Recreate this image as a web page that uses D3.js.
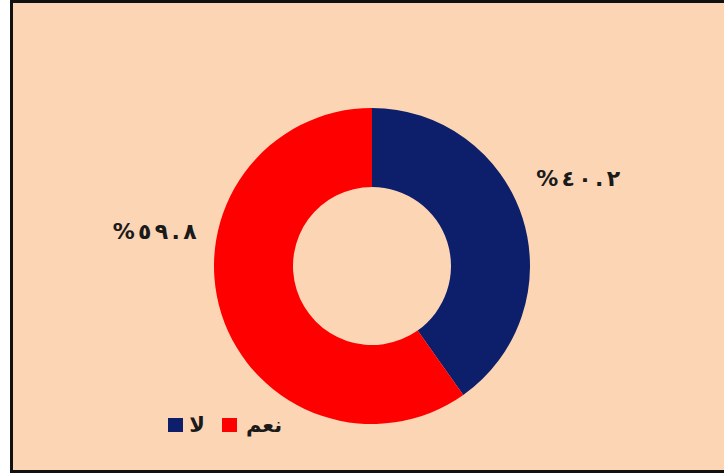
<!DOCTYPE html>
<html>
<head>
<meta charset="utf-8">
<script src="https://cdn.jsdelivr.net/npm/d3@7"></script>
<style>
  html, body { margin: 0; padding: 0; background: #ffffff; }
  svg { display: block; }
  text { font-family: "DejaVu Sans", sans-serif; font-weight: bold; }
</style>
</head>
<body>
<svg id="chart" width="724" height="474"></svg>
<script>
// Survey answers: "no" and "yes"
const categories = ["لا", "نعم"];
const values = [40.2, 59.8];
const valueLabels = ["%٤٠.٢", "%٥٩.٨"];
const colors = ["#0D1E6A", "#FF0000"];

const svg = d3.select("#chart");

// chart area with dark frame
svg.append("rect")
  .attr("x", 11.5).attr("y", 1.5)
  .attr("width", 740).attr("height", 470)
  .attr("fill", "#FCD5B5")
  .attr("stroke", "#111111")
  .attr("stroke-width", 3);

const cx = 372, cy = 266, rOuter = 158, rInner = 79;

const pie = d3.pie().sort(null).value(d => d.value);
const arcs = pie(categories.map((c, i) => ({ cat: c, value: values[i], color: colors[i], label: valueLabels[i] })));
const arc = d3.arc().innerRadius(rInner).outerRadius(rOuter);

const g = svg.append("g").attr("transform", `translate(${cx},${cy})`);
g.selectAll("path.slice")
  .data(arcs)
  .join("path")
  .attr("class", "slice")
  .attr("d", arc)
  .attr("fill", d => d.data.color);

// value labels placed outside the ring (angle from top, clockwise; distance from centre)
const labelPlace = [
  { angle: 67, dist: 224 },
  { angle: 279, dist: 220 }
];
g.selectAll("text.val")
  .data(arcs)
  .join("text")
  .attr("class", "val")
  .attr("direction", "ltr")
  .attr("transform", (d, i) => {
    const a = labelPlace[i].angle * Math.PI / 180;
    const r = labelPlace[i].dist;
    return `translate(${r * Math.sin(a)},${-r * Math.cos(a)})`;
  })
  .attr("text-anchor", "middle")
  .attr("dominant-baseline", "central")
  .attr("font-size", 22)
  .attr("textLength", 84)
  .attr("lengthAdjust", "spacing")
  .attr("fill", "#1a1a1a")
  .text(d => d.data.label);

// legend
const legend = svg.append("g").attr("transform", "translate(168,425)");
const legendItems = [
  { cat: categories[0], color: colors[0], x: 0, tx: 29 },
  { cat: categories[1], color: colors[1], x: 54, tx: 96 }
];
legendItems.forEach(it => {
  legend.append("rect")
    .attr("x", it.x).attr("y", -7)
    .attr("width", 15).attr("height", 14)
    .attr("fill", it.color);
  legend.append("text")
    .attr("x", it.tx).attr("y", 0)
    .attr("text-anchor", "middle")
    .attr("dominant-baseline", "central")
    .attr("font-size", 21)
    .attr("fill", "#1a1a1a")
    .text(it.cat);
});
</script>
</body>
</html>
